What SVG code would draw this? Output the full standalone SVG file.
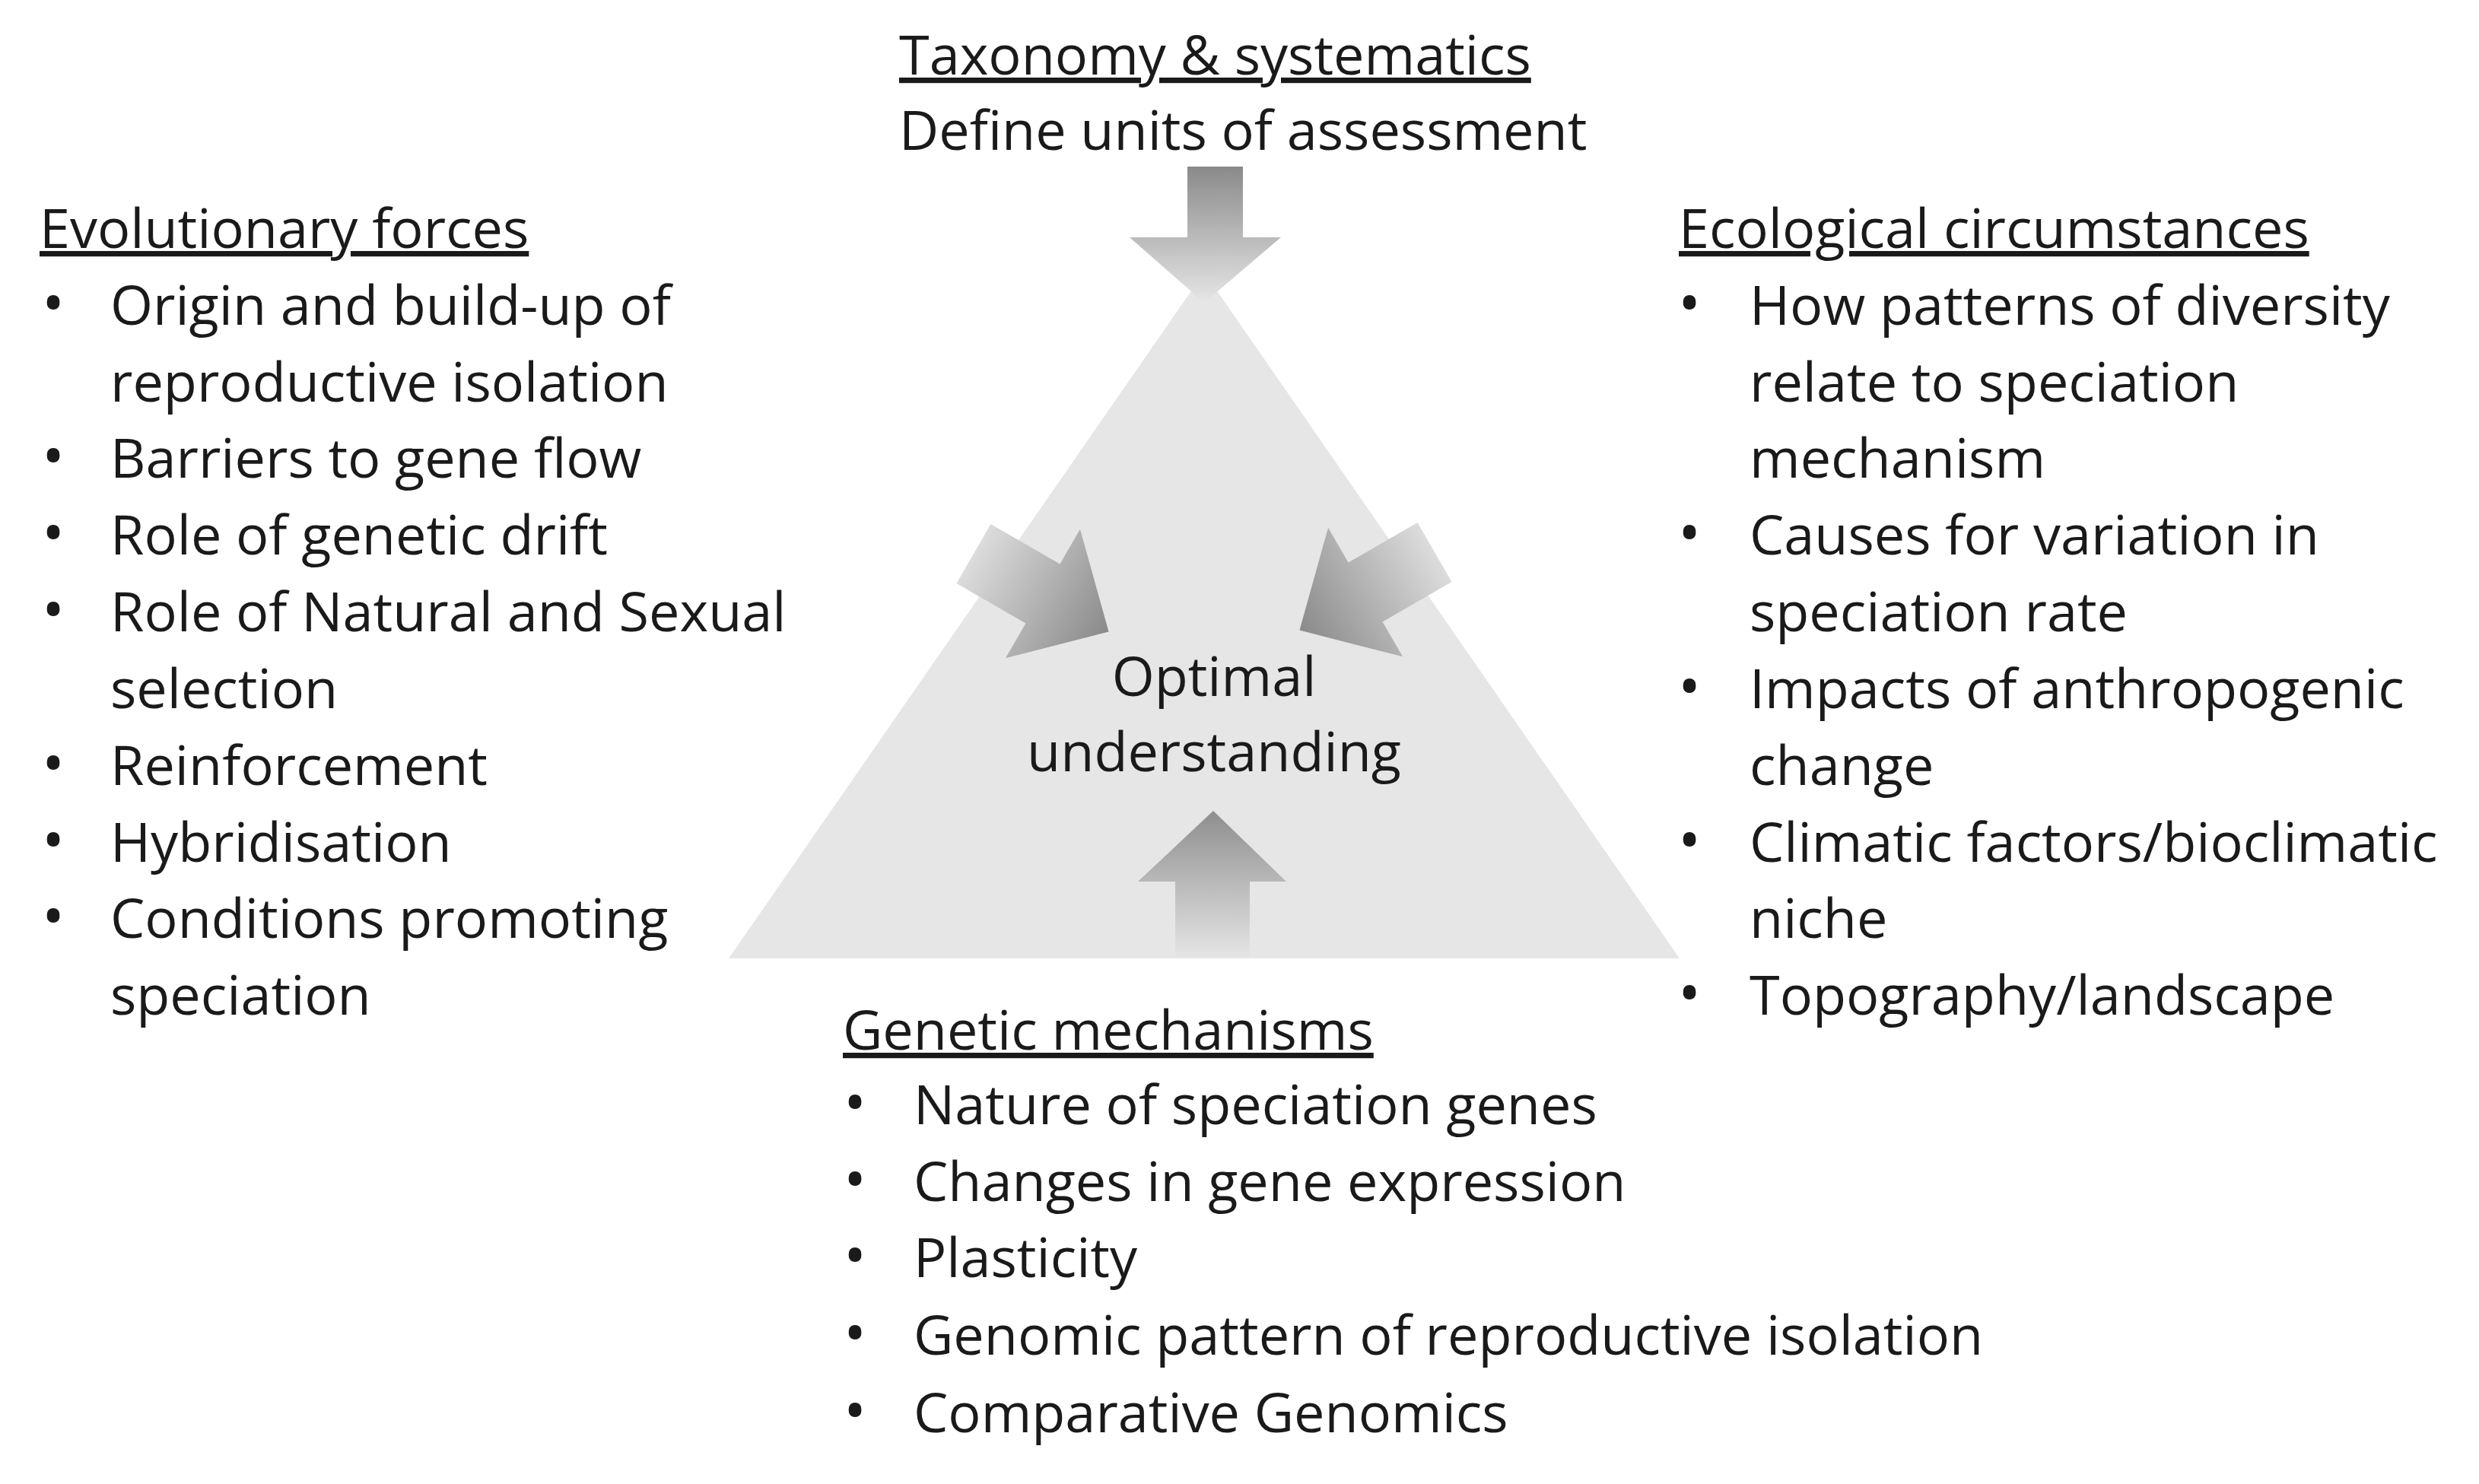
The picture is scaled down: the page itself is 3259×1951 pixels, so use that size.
<svg xmlns="http://www.w3.org/2000/svg" width="3259" height="1951" viewBox="0 0 3259 1951">
<style>
text{font-family:"Open Sans","Noto Sans",sans-serif;font-size:72px;fill:#1a1a1a}
.h{text-decoration:underline}
.c{text-anchor:middle}
.b{font-size:80px}
</style>
<defs>
<linearGradient id="gDown" x1="0" y1="0" x2="0" y2="1"><stop offset="0" stop-color="#8a8a8a"/><stop offset="1" stop-color="#e6e6e6"/></linearGradient>
<linearGradient id="gUp" x1="0" y1="0" x2="0" y2="1"><stop offset="0" stop-color="#8e8e8e"/><stop offset="1" stop-color="#e6e6e6"/></linearGradient>
<linearGradient id="gSide" x1="0" y1="0" x2="1" y2="0"><stop offset="0" stop-color="#dcdcdc"/><stop offset="1" stop-color="#8a8a8a"/></linearGradient>
</defs>
<rect width="3259" height="1951" fill="#fff"/>
<g id="triangle"><polygon points="1583,358 2208,1260 958,1260" fill="#e6e6e6"/></g>
<g id="connectors">
<polygon points="1561,219 1634,219 1634,312 1684,312 1583,398 1485,312 1561,312" fill="url(#gDown)"/>
<polygon points="1595,1066 1691,1159 1643,1159 1643,1260 1545,1260 1545,1159 1496,1159" fill="url(#gUp)"/>
<g transform="translate(1280,728) rotate(30)"><polygon points="0,-45 105,-45 105,-98 205,0 105,98 105,45 0,45" fill="url(#gSide)"/></g>
<g transform="translate(1886,726) rotate(150)"><polygon points="0,-45 105,-45 105,-98 205,0 105,98 105,45 0,45" fill="url(#gSide)"/></g>
</g>
<g id="center"><text class="c" x="1596" y="915">Optimal</text><text class="c" x="1596" y="1014">understanding</text></g>
<g id="top"><text class="h" x="1182" y="98">Taxonomy &amp; systematics</text><text x="1182" y="197">Define units of assessment</text></g>
<g id="left">
<text class="h" x="52" y="326">Evolutionary forces</text>
<text class="b" x="55" y="427">•</text><text x="145" y="427">Origin and build-up of</text>
<text x="145" y="528">reproductive isolation</text>
<text class="b" x="55" y="628">•</text><text x="145" y="628">Barriers to gene flow</text>
<text class="b" x="55" y="729">•</text><text x="145" y="729">Role of genetic drift</text>
<text class="b" x="55" y="830">•</text><text x="145" y="830">Role of Natural and Sexual</text>
<text x="145" y="931">selection</text>
<text class="b" x="55" y="1032">•</text><text x="145" y="1032">Reinforcement</text>
<text class="b" x="55" y="1133">•</text><text x="145" y="1133">Hybridisation</text>
<text class="b" x="55" y="1233">•</text><text x="145" y="1233">Conditions promoting</text>
<text x="145" y="1334">speciation</text>
</g>
<g id="right">
<text class="h" x="2207" y="326">Ecological circumstances</text>
<text class="b" x="2206" y="427">•</text><text x="2300" y="427">How patterns of diversity</text>
<text x="2300" y="528">relate to speciation</text>
<text x="2300" y="628">mechanism</text>
<text class="b" x="2206" y="729">•</text><text x="2300" y="729">Causes for variation in</text>
<text x="2300" y="830">speciation rate</text>
<text class="b" x="2206" y="931">•</text><text x="2300" y="931">Impacts of anthropogenic</text>
<text x="2300" y="1032">change</text>
<text class="b" x="2206" y="1133">•</text><text x="2300" y="1133">Climatic factors/bioclimatic</text>
<text x="2300" y="1233">niche</text>
<text class="b" x="2206" y="1334">•</text><text x="2300" y="1334">Topography/landscape</text>
</g>
<g id="bottom">
<text class="h" x="1108" y="1380">Genetic mechanisms</text>
<text class="b" x="1109" y="1478">•</text><text x="1201" y="1478">Nature of speciation genes</text>
<text class="b" x="1109" y="1579">•</text><text x="1201" y="1579">Changes in gene expression</text>
<text class="b" x="1109" y="1679">•</text><text x="1201" y="1679">Plasticity</text>
<text class="b" x="1109" y="1781">•</text><text x="1201" y="1781">Genomic pattern of reproductive isolation</text>
<text class="b" x="1109" y="1883">•</text><text x="1201" y="1883">Comparative Genomics</text>
</g>
</svg>
